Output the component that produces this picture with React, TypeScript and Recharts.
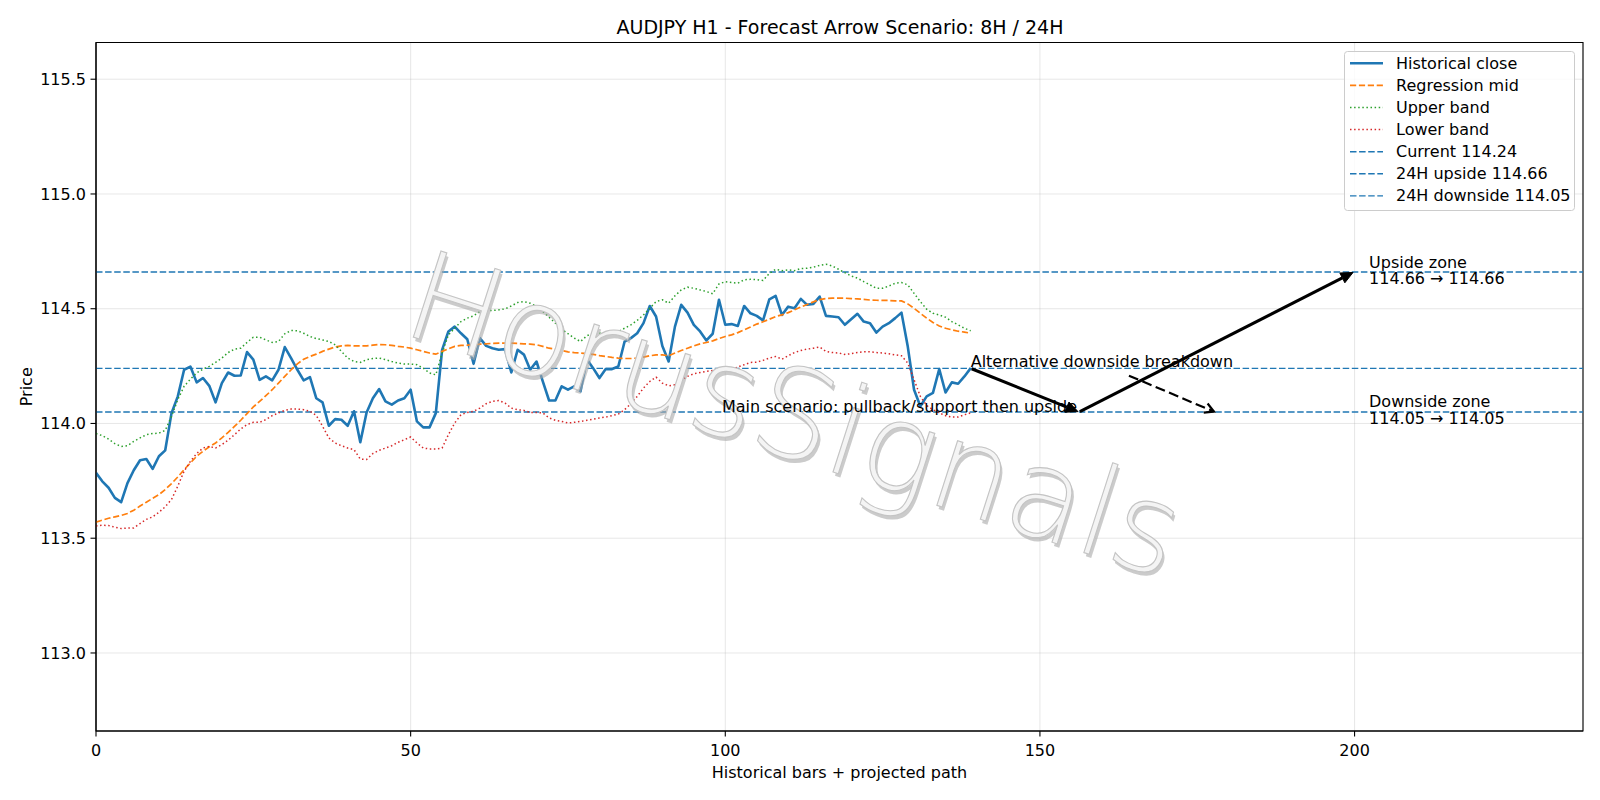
import React from 'react';
import {
  ComposedChart,
  Line,
  XAxis,
  YAxis,
  CartesianGrid,
  ReferenceLine,
  ReferenceDot,
  ReferenceArea,
  Legend,
} from 'recharts';

// ---------- data ----------
const closeValues = [
  113.785, 113.748, 113.72, 113.676, 113.657, 113.74, 113.796, 113.84, 113.845, 113.802,
  113.857, 113.883, 114.045, 114.118, 114.234, 114.248, 114.179, 114.198, 114.164, 114.092,
  114.176, 114.222, 114.208, 114.209, 114.311, 114.278, 114.19, 114.205, 114.188, 114.234,
  114.333, 114.285, 114.234, 114.188, 114.202, 114.11, 114.092, 113.99, 114.019, 114.016,
  113.99, 114.053, 113.918, 114.048, 114.11, 114.15, 114.096, 114.082, 114.1, 114.11,
  114.147, 114.009, 113.983, 113.983, 114.045, 114.321, 114.401, 114.422, 114.393, 114.367,
  114.26, 114.372, 114.338, 114.328, 114.321, 114.324, 114.222, 114.321, 114.3, 114.234,
  114.27, 114.183, 114.1, 114.1, 114.162, 114.147, 114.162, 114.14, 114.28, 114.241,
  114.198, 114.237, 114.237, 114.248, 114.357, 114.372, 114.393, 114.437, 114.512, 114.466,
  114.338, 114.27, 114.422, 114.517, 114.483, 114.43, 114.401, 114.362, 114.391, 114.539,
  114.43, 114.433, 114.425, 114.512, 114.48, 114.469, 114.449, 114.541, 114.556, 114.473,
  114.509, 114.502, 114.543, 114.517, 114.521, 114.553, 114.469, 114.466, 114.463, 114.43,
  114.454, 114.478, 114.444, 114.437, 114.396, 114.422, 114.437, 114.459, 114.483, 114.335,
  114.147, 114.075, 114.118, 114.133, 114.237, 114.135, 114.179, 114.173, 114.205, 114.241,
];

const midValues = [
  113.57, 113.579, 113.587, 113.593, 113.599, 113.608, 113.622, 113.64, 113.657, 113.674,
  113.69, 113.712, 113.738, 113.767, 113.799, 113.828, 113.857, 113.879, 113.898, 113.915,
  113.937, 113.961, 113.987, 114.014, 114.043, 114.072, 114.096, 114.121, 114.147, 114.176,
  114.205, 114.234, 114.26, 114.28, 114.292, 114.302, 114.314, 114.324, 114.333, 114.338,
  114.34, 114.338, 114.338, 114.338, 114.341, 114.344, 114.343, 114.34, 114.336, 114.333,
  114.328, 114.321, 114.314, 114.307, 114.302, 114.314, 114.325, 114.336, 114.34, 114.341,
  114.343, 114.346, 114.347, 114.349, 114.35, 114.35, 114.35, 114.349, 114.347, 114.346,
  114.343, 114.336, 114.328, 114.324, 114.318, 114.312, 114.309, 114.307, 114.304, 114.301,
  114.296, 114.292, 114.288, 114.285, 114.283, 114.283, 114.285, 114.289, 114.295, 114.299,
  114.299, 114.295, 114.307, 114.318, 114.328, 114.338, 114.347, 114.353, 114.36, 114.37,
  114.379, 114.386, 114.396, 114.408, 114.42, 114.433, 114.443, 114.454, 114.466, 114.473,
  114.483, 114.495, 114.507, 114.518, 114.53, 114.54, 114.544, 114.546, 114.546, 114.546,
  114.544, 114.543, 114.541, 114.538, 114.537, 114.536, 114.536, 114.534, 114.534, 114.521,
  114.502, 114.48, 114.459, 114.44, 114.425, 114.415, 114.408, 114.402, 114.398, 114.393,
];

const upperValues = [
  113.956, 113.947, 113.932, 113.912, 113.9, 113.903, 113.922, 113.937, 113.951, 113.956,
  113.958, 113.97, 114.031, 114.104, 114.162, 114.193, 114.22, 114.237, 114.249, 114.266,
  114.285, 114.309, 114.324, 114.328, 114.353, 114.376, 114.376, 114.364, 114.353, 114.357,
  114.391, 114.405, 114.404, 114.393, 114.379, 114.37, 114.364, 114.357, 114.343, 114.314,
  114.285, 114.27, 114.266, 114.278, 114.283, 114.285, 114.278, 114.27, 114.263, 114.259,
  114.259, 114.256, 114.241, 114.22, 114.212, 114.306, 114.386, 114.415, 114.444, 114.459,
  114.469, 114.488, 114.492, 114.492, 114.495, 114.499, 114.512, 114.527, 114.531, 114.524,
  114.51, 114.488, 114.463, 114.437, 114.411, 114.391, 114.372, 114.357, 114.382, 114.393,
  114.393, 114.393, 114.396, 114.401, 114.415, 114.43, 114.449, 114.473, 114.502, 114.531,
  114.539, 114.524, 114.556, 114.582, 114.594, 114.589, 114.582, 114.575, 114.565, 114.608,
  114.618, 114.614, 114.611, 114.626, 114.628, 114.627, 114.623, 114.654, 114.672, 114.666,
  114.669, 114.666, 114.675, 114.676, 114.681, 114.689, 114.694, 114.686, 114.672, 114.657,
  114.643, 114.633, 114.618, 114.604, 114.589, 114.589, 114.599, 114.611, 114.614, 114.604,
  114.567, 114.531, 114.498, 114.48, 114.473, 114.463, 114.444, 114.43, 114.415, 114.404,
];

const lowerValues = [
  113.553, 113.557, 113.555, 113.548, 113.542, 113.544, 113.545, 113.564, 113.582, 113.593,
  113.613, 113.637, 113.669, 113.727, 113.792, 113.835, 113.869, 113.893, 113.9, 113.893,
  113.908, 113.927, 113.951, 113.976, 113.995, 114.005, 114.005, 114.017, 114.034, 114.046,
  114.057, 114.063, 114.063, 114.06, 114.053, 114.035, 113.988, 113.937, 113.915, 113.903,
  113.893, 113.886, 113.845, 113.843, 113.869, 113.883, 113.893, 113.903, 113.918, 113.929,
  113.941, 113.915, 113.893, 113.889, 113.889, 113.893, 113.951, 114.002, 114.038, 114.048,
  114.053, 114.067, 114.086, 114.096, 114.1, 114.089, 114.067, 114.06, 114.057, 114.048,
  114.048, 114.046, 114.024, 114.014, 114.009, 114.002, 114.005, 114.009, 114.014, 114.019,
  114.024, 114.028, 114.034, 114.041, 114.06, 114.086, 114.118, 114.154, 114.183, 114.202,
  114.176, 114.164, 114.169, 114.188, 114.205, 114.217, 114.222, 114.227, 114.231, 114.234,
  114.231, 114.237, 114.246, 114.256, 114.266, 114.267, 114.275, 114.285, 114.292, 114.28,
  114.295, 114.309, 114.318, 114.324, 114.328, 114.333, 114.314, 114.309, 114.307, 114.301,
  114.304, 114.309, 114.312, 114.312, 114.309, 114.307, 114.304, 114.299, 114.295, 114.263,
  114.191, 114.118, 114.078, 114.06, 114.046, 114.034, 114.028, 114.028, 114.038, 114.046,
];

const currentPrice = 114.24;
const upsideTarget = 114.66;
const downsideTarget = 114.05;

// projected scenario path (bar index, price)
const mainPathX = [139, 156.2, 199.9];
const mainPathY = [currentPrice, downsideTarget, upsideTarget];
const altArrowX = [164, 177.8];
const altArrowY = [114.21, downsideTarget];
const zoneLabelX = 202.3;
const watermarkX = 109;
const watermarkY = 113.86;

const xTicks = [0, 50, 100, 150, 200];
const yTicks = [113.0, 113.5, 114.0, 114.5, 115.0, 115.5];
const xDomain: [number, number] = [0, 236.3];
const yDomain: [number, number] = [112.66, 115.66];

const titleText = 'AUDJPY H1 - Forecast Arrow Scenario: 8H / 24H';
const xLabelText = 'Historical bars + projected path';
const yLabelText = 'Price';
const watermarkText = 'HorusSignals';

const legendLabels = [
  'Historical close',
  'Regression mid',
  'Upper band',
  'Lower band',
  `Current ${currentPrice.toFixed(2)}`,
  `24H upside ${upsideTarget.toFixed(2)}`,
  `24H downside ${downsideTarget.toFixed(2)}`,
];

const chartData = closeValues.map((c, i) => ({
  x: i,
  close: c,
  mid: midValues[i],
  upper: upperValues[i],
  lower: lowerValues[i],
}));

// ---------- styles ----------
const FONT = "'DejaVu Sans', sans-serif";
const FS = 16;
const BLUE = '#1f77b4';
const ORANGE = '#ff7f0e';
const GREEN = '#2ca02c';
const RED = '#d62728';
const HLINE_DASH = '6.5 2.6';
const MID_DASH = '6.2 2.7';
const DOT_DASH = '1.5 2.6';

const legendStyles = [
  { color: BLUE, dash: undefined as string | undefined, width: 2.5 },
  { color: ORANGE, dash: MID_DASH, width: 1.7 },
  { color: GREEN, dash: DOT_DASH, width: 1.5 },
  { color: RED, dash: DOT_DASH, width: 1.5 },
  { color: BLUE, dash: HLINE_DASH, width: 1.4 },
  { color: BLUE, dash: HLINE_DASH, width: 1.4 },
  { color: BLUE, dash: HLINE_DASH, width: 1.4 },
];

type ArrowOpts = { width: number; dash?: string; filled: boolean; headLen: number; headHalf: number; shrink: number };

const makeArrow = (o: ArrowOpts) => (p: any) => {
  const x1 = Number(p.x1), y1 = Number(p.y1), x2 = Number(p.x2), y2 = Number(p.y2);
  const dx = x2 - x1, dy = y2 - y1;
  const L = Math.hypot(dx, dy) || 1;
  const ux = dx / L, uy = dy / L;
  const nx = -uy, ny = ux;
  const sx = x1 + ux * o.shrink, sy = y1 + uy * o.shrink;
  const ex = x2 - ux * o.shrink, ey = y2 - uy * o.shrink;
  const bx = ex - ux * o.headLen, by = ey - uy * o.headLen;
  if (o.filled) {
    return (
      <g>
        <line x1={sx} y1={sy} x2={bx} y2={by} stroke="#000" strokeWidth={o.width} strokeDasharray={o.dash} />
        <polygon
          points={`${ex},${ey} ${bx + nx * o.headHalf},${by + ny * o.headHalf} ${bx - nx * o.headHalf},${by - ny * o.headHalf}`}
          fill="#000"
          stroke="#000"
          strokeWidth={1}
          strokeLinejoin="miter"
        />
      </g>
    );
  }
  return (
    <g>
      <line x1={sx} y1={sy} x2={ex} y2={ey} stroke="#000" strokeWidth={o.width} strokeDasharray={o.dash} />
      <polyline
        points={`${bx + nx * o.headHalf},${by + ny * o.headHalf} ${ex},${ey} ${bx - nx * o.headHalf},${by - ny * o.headHalf}`}
        fill="none"
        stroke="#000"
        strokeWidth={o.width}
      />
    </g>
  );
};

const solidArrow = makeArrow({ width: 3, filled: true, headLen: 12, headHalf: 5.5, shrink: 1 });
const dashedArrow = makeArrow({ width: 2.2, dash: '10 4.5', filled: false, headLen: 9, headHalf: 5, shrink: 1 });

const Watermark = (p: any) => {
  const cx = Number(p.cx), cy = Number(p.cy);
  return (
    <g transform={`rotate(17.8 ${cx} ${cy})`} style={{ pointerEvents: 'none' }}>
      <text x={cx + 3} y={cy + 3} textAnchor="middle" fontFamily={FONT} fontWeight={200} fontSize={124}
        fill="#a8a8a8" fillOpacity={0.6}>
        {watermarkText}
      </text>
      <text x={cx} y={cy} textAnchor="middle" fontFamily={FONT} fontWeight={200} fontSize={124}
        fill="#f4f4f4" stroke="#c4c4c4" strokeWidth={1.1}>
        {watermarkText}
      </text>
    </g>
  );
};

const textAt = (value: string, anchor: 'start' | 'end', dy: number) => (p: any) => (
  <text x={Number(p.cx)} y={Number(p.cy) + dy} textAnchor={anchor} fontFamily={FONT} fontSize={FS} fill="#000">
    {value}
  </text>
);

const zoneText = (line1: string, line2: string) => (p: any) => (
  <text fontFamily={FONT} fontSize={FS} fill="#000">
    <tspan x={Number(p.cx)} y={Number(p.cy) - 4.5}>{line1}</tspan>
    <tspan x={Number(p.cx)} y={Number(p.cy) + 11.8}>{line2}</tspan>
  </text>
);

const YLabel = (props: any) => {
  const vb = props.viewBox || {};
  const cx = Number(vb.x) + 26;
  const cy = Number(vb.y) + Number(vb.height) / 2;
  return (
    <text x={cx} y={cy} transform={`rotate(-90 ${cx} ${cy})`} textAnchor="middle" dominantBaseline="central"
      fontFamily={FONT} fontSize={FS} fill="#000">
      {yLabelText}
    </text>
  );
};

const LegendBox = () => (
  <svg width={231} height={160} style={{ display: 'block' }}>
    <rect x={0.5} y={0.5} width={230} height={159} rx={3} ry={3} fill="#ffffff" fillOpacity={0.8} stroke="#cccccc" strokeWidth={1} />
    {legendLabels.map((label, i) => {
      const cy = 12.3 + i * 22.1;
      const s = legendStyles[i];
      return (
        <g key={label}>
          <line x1={6} x2={39} y1={cy} y2={cy} stroke={s.color} strokeWidth={s.width} strokeDasharray={s.dash} />
          <text x={52} y={cy} dominantBaseline="central" fontFamily={FONT} fontSize={FS} fill="#000">
            {label}
          </text>
        </g>
      );
    })}
  </svg>
);

export default function App() {
  return (
    <div style={{ position: 'absolute', left: 0, top: 0, width: 1600, height: 800, background: '#fff', overflow: 'hidden' }}>
      <div style={{ position: 'absolute', left: 0, top: 14, width: 1680, textAlign: 'center', fontFamily: FONT, fontSize: 19, lineHeight: '26px', color: '#000' }}>
        {titleText}
      </div>
      <ComposedChart
        width={1600}
        height={800}
        data={chartData}
        margin={{ top: 42.5, right: 17, bottom: 0, left: 0 }}
      >
        <CartesianGrid stroke="#b0b0b0" strokeOpacity={0.3} strokeWidth={1} />
        <XAxis
          type="number"
          dataKey="x"
          domain={xDomain}
          ticks={xTicks}
          allowDataOverflow
          height={69}
          tickSize={5.5}
          tickMargin={8.5}
          axisLine={{ stroke: '#000', strokeWidth: 1.1 }}
          tickLine={{ stroke: '#000', strokeWidth: 1.1 }}
          tick={{ fill: '#000', fontSize: FS, fontFamily: FONT }}
          label={{ value: xLabelText, position: 'insideBottom', offset: 22, fill: '#000', fontSize: FS, fontFamily: FONT }}
        />
        <YAxis
          type="number"
          domain={yDomain}
          ticks={yTicks}
          allowDataOverflow
          width={96}
          tickSize={5.5}
          tickMargin={4.5}
          tickFormatter={(v: number) => v.toFixed(1)}
          axisLine={{ stroke: '#000', strokeWidth: 1.1 }}
          tickLine={{ stroke: '#000', strokeWidth: 1.1 }}
          tick={{ fill: '#000', fontSize: FS, fontFamily: FONT }}
          label={<YLabel />}
        />
        <ReferenceDot x={watermarkX} y={watermarkY} r={0} shape={Watermark} />

        <ReferenceLine y={currentPrice} stroke={BLUE} strokeWidth={1.4} strokeDasharray={HLINE_DASH} />
        <ReferenceLine y={upsideTarget} stroke={BLUE} strokeWidth={1.4} strokeDasharray={HLINE_DASH} />
        <ReferenceLine y={downsideTarget} stroke={BLUE} strokeWidth={1.4} strokeDasharray={HLINE_DASH} />

        <Line type="linear" dataKey="close" stroke={BLUE} strokeWidth={2.6} dot={false} isAnimationActive={false} strokeLinejoin="round" />
        <Line type="linear" dataKey="mid" stroke={ORANGE} strokeWidth={1.7} strokeDasharray={MID_DASH} dot={false} isAnimationActive={false} />
        <Line type="linear" dataKey="upper" stroke={GREEN} strokeWidth={1.5} strokeDasharray={DOT_DASH} dot={false} isAnimationActive={false} />
        <Line type="linear" dataKey="lower" stroke={RED} strokeWidth={1.5} strokeDasharray={DOT_DASH} dot={false} isAnimationActive={false} />

        <ReferenceLine
          segment={[{ x: mainPathX[0], y: mainPathY[0] }, { x: mainPathX[1], y: mainPathY[1] }]}
          shape={solidArrow}
        />
        <ReferenceLine
          segment={[{ x: mainPathX[1], y: mainPathY[1] }, { x: mainPathX[2], y: mainPathY[2] }]}
          shape={solidArrow}
        />
        <ReferenceLine
          segment={[{ x: altArrowX[0], y: altArrowY[0] }, { x: altArrowX[1], y: altArrowY[1] }]}
          shape={dashedArrow}
        />

        <ReferenceDot x={mainPathX[0]} y={mainPathY[0]} r={0} shape={textAt('Alternative downside breakdown', 'start', -1)} />
        <ReferenceDot x={mainPathX[1] - 0.3} y={mainPathY[1]} r={0} shape={textAt('Main scenario: pullback/support then upside', 'end', 0)} />
        <ReferenceDot x={zoneLabelX} y={upsideTarget} r={0}
          shape={zoneText('Upside zone', `${upsideTarget.toFixed(2)} → ${upsideTarget.toFixed(2)}`)} />
        <ReferenceDot x={zoneLabelX} y={downsideTarget} r={0}
          shape={zoneText('Downside zone', `${downsideTarget.toFixed(2)} → ${downsideTarget.toFixed(2)}`)} />

        <ReferenceArea x1={xDomain[0]} x2={xDomain[1]} y1={yDomain[0]} y2={yDomain[1]} fill="none" stroke="#000" strokeWidth={1.1} fillOpacity={0} />

        <Legend
          layout="vertical"
          align="center"
          verticalAlign="middle"
          content={() => <LegendBox />}
          wrapperStyle={{ position: 'absolute', left: 1344, top: 51, width: 231, height: 160 }}
        />
      </ComposedChart>
    </div>
  );
}
